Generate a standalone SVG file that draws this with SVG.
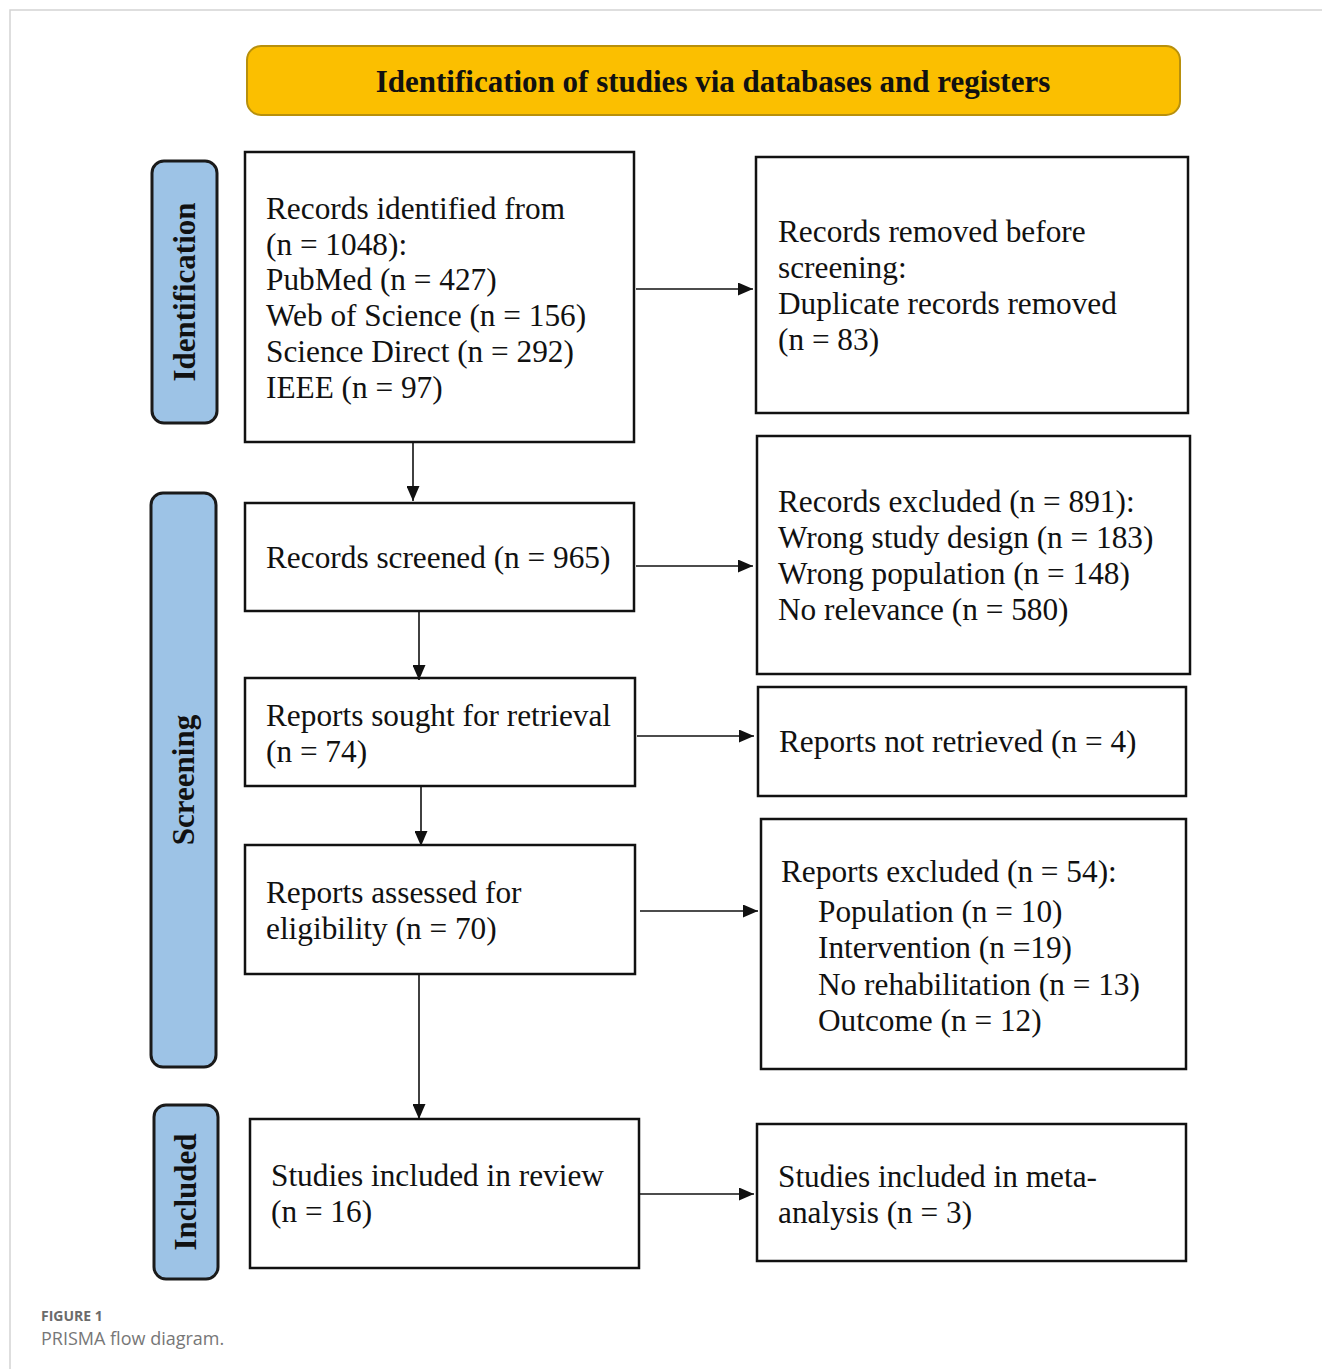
<svg xmlns="http://www.w3.org/2000/svg" width="1322" height="1369" viewBox="0 0 1322 1369">
<style>
.box{fill:#fff;stroke:#111;stroke-width:2.5}
.side{fill:#9DC3E6;stroke:#1a1a1a;stroke-width:3}
.t{font-family:"Liberation Serif","Times New Roman",serif;font-size:31.3px;fill:#111}
.sideT{font-family:"Liberation Serif","Times New Roman",serif;font-size:31px;font-weight:bold;fill:#111;text-anchor:middle}
.conn{stroke:#111;stroke-width:1.6;fill:none;marker-end:url(#ah)}
</style>
<defs>
<marker id="ah" viewBox="0 0 15 13" markerWidth="15" markerHeight="13" refX="15" refY="6.5" orient="auto" markerUnits="userSpaceOnUse">
<path d="M0,0 L15,6.5 L0,13 z" fill="#111"/>
</marker>
</defs>
<rect width="1322" height="1369" fill="#fff"/>
<g id="frame" stroke="#d4d4d4" stroke-width="1.5" fill="none">
<path d="M10,1369 L10,10 L1322,10"/>
</g>
<g id="header">
<rect x="247" y="46" width="933" height="69" rx="14" fill="#FBBF00" stroke="#B8900C" stroke-width="2"/>
<text x="713" y="92" text-anchor="middle" style="font-family:'Liberation Serif','Times New Roman',serif;font-size:31px;font-weight:bold;fill:#111">Identification of studies via databases and registers</text>
</g>
<g id="side-identification">
<rect class="side" x="152" y="161" width="65" height="262" rx="12"/>
<text class="sideT" transform="translate(195 292) rotate(-90)">Identification</text>
</g>
<g id="side-screening">
<rect class="side" x="151" y="493" width="65" height="574" rx="12"/>
<text class="sideT" transform="translate(194 780) rotate(-90)">Screening</text>
</g>
<g id="side-included">
<rect class="side" x="154" y="1105" width="64" height="174" rx="12"/>
<text class="sideT" transform="translate(196 1192) rotate(-90)">Included</text>
</g>
<g id="records-identified">
<rect class="box" x="245" y="152" width="389" height="290"/>
<text class="t"><tspan x="266" y="219">Records identified from</tspan><tspan x="266" y="254.5">(n = 1048):</tspan><tspan x="266" y="290">PubMed (n = 427)</tspan><tspan x="266" y="326">Web of Science (n = 156)</tspan><tspan x="266" y="362">Science Direct (n = 292)</tspan><tspan x="266" y="398">IEEE (n = 97)</tspan></text>
</g>
<g id="records-removed">
<rect class="box" x="756" y="157" width="432" height="256"/>
<text class="t"><tspan x="778" y="242">Records removed before</tspan><tspan x="778" y="278">screening:</tspan><tspan x="778" y="314">Duplicate records removed</tspan><tspan x="778" y="350">(n = 83)</tspan></text>
</g>
<g id="records-screened">
<rect class="box" x="245" y="503" width="389" height="108"/>
<text class="t" x="266" y="568">Records screened (n = 965)</text>
</g>
<g id="records-excluded">
<rect class="box" x="757" y="436" width="433" height="238"/>
<text class="t"><tspan x="778" y="512">Records excluded (n = 891):</tspan><tspan x="778" y="548">Wrong study design (n = 183)</tspan><tspan x="778" y="584">Wrong population (n = 148)</tspan><tspan x="778" y="620">No relevance (n = 580)</tspan></text>
</g>
<g id="reports-sought">
<rect class="box" x="245" y="678" width="390" height="108"/>
<text class="t"><tspan x="266" y="726">Reports sought for retrieval</tspan><tspan x="266" y="762">(n = 74)</tspan></text>
</g>
<g id="reports-not-retrieved">
<rect class="box" x="758" y="687" width="428" height="109"/>
<text class="t" x="779" y="752">Reports not retrieved (n = 4)</text>
</g>
<g id="reports-assessed">
<rect class="box" x="245" y="845" width="390" height="129"/>
<text class="t"><tspan x="266" y="903">Reports assessed for</tspan><tspan x="266" y="939">eligibility (n = 70)</tspan></text>
</g>
<g id="reports-excluded">
<rect class="box" x="761" y="819" width="425" height="250"/>
<text class="t" x="781" y="882">Reports excluded (n = 54):</text>
<text class="t"><tspan x="818" y="922">Population (n = 10)</tspan><tspan x="818" y="958">Intervention (n =19)</tspan><tspan x="818" y="995">No rehabilitation (n = 13)</tspan><tspan x="818" y="1031">Outcome (n = 12)</tspan></text>
</g>
<g id="studies-review">
<rect class="box" x="250" y="1119" width="389" height="149"/>
<text class="t"><tspan x="271" y="1186">Studies included in review</tspan><tspan x="271" y="1222">(n = 16)</tspan></text>
</g>
<g id="studies-meta">
<rect class="box" x="757" y="1124" width="429" height="137"/>
<text class="t"><tspan x="778" y="1187">Studies included in meta-</tspan><tspan x="778" y="1223">analysis (n = 3)</tspan></text>
</g>
<g id="connectors">
<line class="conn" x1="413" y1="443" x2="413" y2="501"/>
<line class="conn" x1="419" y1="612" x2="419" y2="680"/>
<line class="conn" x1="421" y1="787" x2="421" y2="846"/>
<line class="conn" x1="419" y1="975" x2="419" y2="1119"/>
<line class="conn" x1="636" y1="289" x2="753" y2="289"/>
<line class="conn" x1="636" y1="566" x2="753" y2="566"/>
<line class="conn" x1="637" y1="736" x2="754" y2="736"/>
<line class="conn" x1="640" y1="911" x2="758" y2="911"/>
<line class="conn" x1="640" y1="1194" x2="754" y2="1194"/>
</g>
<g id="caption">
<text x="41" y="1321" style="font-family:'Open Sans','Noto Sans',sans-serif;font-size:14px;font-weight:bold;fill:#6b6b6b">FIGURE 1</text>
<text x="41" y="1345" style="font-family:'Open Sans','Noto Sans',sans-serif;font-size:18px;fill:#777">PRISMA flow diagram.</text>
</g>
</svg>
